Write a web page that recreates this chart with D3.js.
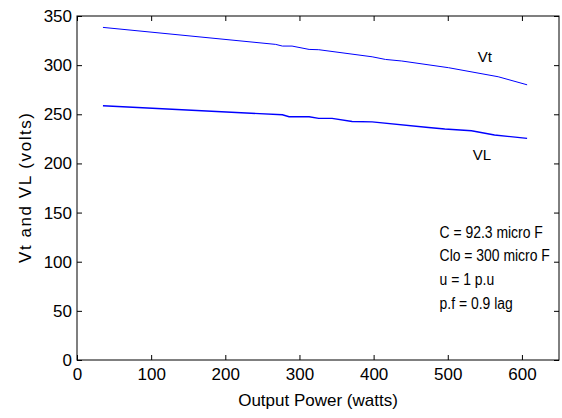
<!DOCTYPE html>
<html>
<head>
<meta charset="utf-8">
<script src="https://cdn.jsdelivr.net/npm/d3@7/dist/d3.min.js"></script>
<style>
  body { margin: 0; background: #fff; }
  text { font-family: "Liberation Sans", Arial, sans-serif; fill: #000; }
</style>
</head>
<body>
<div id="chart"></div>
<script>
// Vt and VL against output power
var vtPower = [35, 268, 277, 290, 313, 326, 398, 416, 438, 501, 568, 607];
var vtVolts = [338.4, 321.1, 319.4, 319.4, 316, 315.7, 308.5, 305.8, 304.2, 297.4, 288.2, 280];

var vlPower = [35, 277, 286, 313, 326, 344, 371, 398, 474, 496, 532, 563, 607];
var vlVolts = [258.7, 249.5, 247.5, 247.5, 245.8, 245.8, 242.7, 242.3, 236.6, 235, 233.3, 228.9, 225.5];

var xTicks = [0, 100, 200, 300, 400, 500, 600];
var yTicks = [0, 50, 100, 150, 200, 250, 300, 350];

var notes = ["C = 92.3 micro F", "Clo = 300 micro F", "u = 1 p.u", "p.f = 0.9 lag"];

var W = 562, H = 418;
var margin = { top: 16, left: 77, right: 3, bottom: 58 };
var width = W - margin.left - margin.right,
    height = H - margin.top - margin.bottom;

var svg = d3.select("#chart").append("svg")
    .attr("width", W).attr("height", H)
  .append("g")
    .attr("transform", "translate(" + margin.left + "," + margin.top + ")");

var x = d3.scaleLinear().domain([0, 650]).range([0, width]);
var y = d3.scaleLinear().domain([0, 350]).range([height, 0]);

// frame
svg.append("rect")
  .attr("width", width).attr("height", height)
  .attr("fill", "none").attr("stroke", "#000").attr("stroke-width", 1);

function styleAxis(g) {
  g.select(".domain").remove();
  g.selectAll("line").attr("stroke", "#000");
  g.selectAll("text").style("font-size", "17px").attr("fill", "#000");
}

svg.append("g").attr("transform", "translate(0," + height + ")")
  .call(d3.axisBottom(x).tickValues(xTicks).tickSize(-5).tickPadding(8))
  .call(styleAxis);
svg.append("g")
  .call(d3.axisTop(x).tickValues(xTicks).tickSize(-5).tickFormat(""))
  .call(styleAxis);
svg.append("g")
  .call(d3.axisLeft(y).tickValues(yTicks).tickSize(-5).tickPadding(5))
  .call(styleAxis);
svg.append("g").attr("transform", "translate(" + width + ",0)")
  .call(d3.axisRight(y).tickValues(yTicks).tickSize(-5).tickFormat(""))
  .call(styleAxis);

var line = d3.line()
  .x(function(d) { return x(d[0]); })
  .y(function(d) { return y(d[1]); });

svg.append("path")
  .datum(d3.zip(vtPower, vtVolts))
  .attr("d", line)
  .attr("fill", "none").attr("stroke", "#0000ff").attr("stroke-width", 1);

svg.append("path")
  .datum(d3.zip(vlPower, vlVolts))
  .attr("d", line)
  .attr("fill", "none").attr("stroke", "#0000ff").attr("stroke-width", 1.4);

// curve labels
svg.append("text").attr("x", x(550)).attr("y", y(308) + 5)
  .attr("text-anchor", "middle").style("font-size", "15px").text("Vt");
svg.append("text").attr("x", x(546)).attr("y", y(209) + 5)
  .attr("text-anchor", "middle").style("font-size", "15px").text("VL");

// parameter notes (narrow glyphs like the original export)
svg.selectAll(".note")
  .data(notes)
  .enter()
  .append("text")
  .attr("class", "note")
  .attr("transform", function(d, i) {
    return "translate(" + x(489) + "," + (y(130) + 5.5 + i * 23.7) + ") scale(0.87,1)";
  })
  .style("font-size", "16px")
  .text(function(d) { return d; });

// axis titles
svg.append("text")
  .attr("x", width / 2).attr("y", height + 46)
  .attr("text-anchor", "middle").style("font-size", "17px")
  .text("Output Power (watts)");

svg.append("text")
  .attr("transform", "translate(" + (-46) + "," + (height / 2) + ") rotate(-90)")
  .attr("text-anchor", "middle").style("font-size", "17px")
  .attr("textLength", 150).attr("lengthAdjust", "spacing")
  .text("Vt and VL (volts)");
</script>
</body>
</html>
